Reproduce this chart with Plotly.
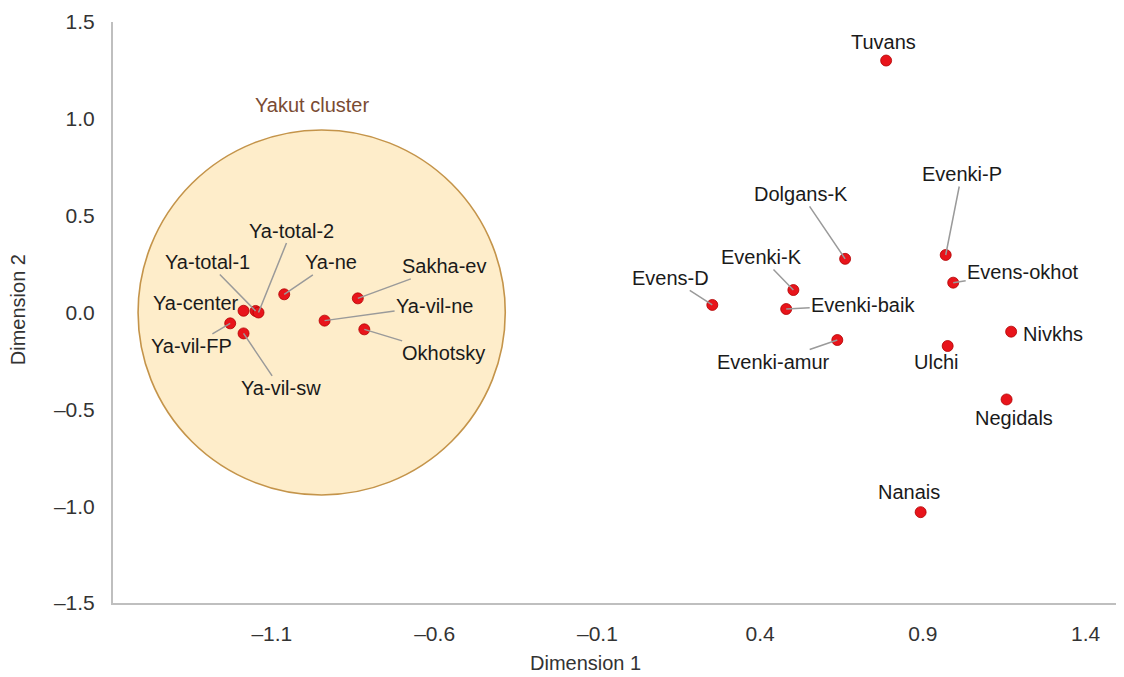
import plotly.graph_objects as go

# ---- data ----
names = ["Tuvans", "Dolgans-K", "Evenki-P", "Evens-okhot", "Evenki-K", "Evens-D",
         "Evenki-baik", "Evenki-amur", "Ulchi", "Nivkhs", "Negidals", "Nanais",
         "Ya-center", "Ya-total-1", "Ya-total-2", "Ya-ne", "Sakha-ev", "Ya-vil-ne",
         "Okhotsky", "Ya-vil-FP", "Ya-vil-sw"]
dim1 = [0.787, 0.661, 0.970, 0.993, 0.502, 0.253,
        0.480, 0.637, 0.976, 1.171, 1.157, 0.893,
        -1.187, -1.150, -1.141, -1.062, -0.836, -0.938,
        -0.816, -1.228, -1.187]
dim2 = [1.301, 0.277, 0.297, 0.154, 0.116, 0.039,
        0.018, -0.142, -0.173, -0.099, -0.449, -1.031,
        0.009, 0.008, 0.000, 0.094, 0.073, -0.042,
        -0.087, -0.056, -0.108]

x_ticks = [-1.1, -0.6, -0.1, 0.4, 0.9, 1.4]
x_ticktext = ["\u20131.1", "\u20130.6", "\u20130.1", "0.4", "0.9", "1.4"]
y_ticks = [1.5, 1.0, 0.5, 0.0, -0.5, -1.0, -1.5]
y_ticktext = ["1.5", "1.0", "0.5", "0.0", "\u20130.5", "\u20131.0", "\u20131.5"]

cluster_label = "Yakut cluster"
cluster_center = (-0.947, 0.0)
cluster_radius = (0.564, 0.942)

# label placement (pixel offsets) : (dx, dy, leader)
label_pos = {
    "Tuvans": (-3, -19, False),
    "Dolgans-K": (-44, -65, True),
    "Evenki-P": (16, -81, True),
    "Evens-okhot": (70, -11, True),
    "Evenki-K": (-32, -33, True),
    "Evens-D": (-42, -27, True),
    "Evenki-baik": (77, -4, True),
    "Evenki-amur": (-64, 22, True),
    "Ulchi": (-12, 16, False),
    "Nivkhs": (42, 2, False),
    "Negidals": (7, 19, False),
    "Nanais": (-12, -20, False),
    "Ya-center": (-48, -8, False),
    "Ya-total-1": (-48, -49, True),
    "Ya-total-2": (33, -82, True),
    "Ya-ne": (47, -32, True),
    "Sakha-ev": (87, -32, True),
    "Ya-vil-ne": (110, -15, True),
    "Okhotsky": (79, 24, True),
    "Ya-vil-FP": (-39, 23, True),
    "Ya-vil-sw": (37, 55, True),
}

FONT = "Liberation Sans, Arial, sans-serif"

fig = go.Figure()

fig.add_trace(go.Scatter(
    x=dim1, y=dim2, mode="markers",
    marker=dict(size=11, color="#E8141B", line=dict(width=0.8, color="#B00000")),
    hoverinfo="text", text=names, showlegend=False,
))

cx, cy = cluster_center
rx, ry = cluster_radius
fig.add_shape(type="circle", xref="x", yref="y",
              x0=cx - rx, x1=cx + rx, y0=cy - ry, y1=cy + ry,
              fillcolor="#FEEDCA", line=dict(color="#C4944A", width=1.6),
              layer="below")

fig.add_annotation(x=cx, y=cy + ry, xref="x", yref="y", text=cluster_label,
                   showarrow=False, xshift=-10, yshift=25,
                   font=dict(family=FONT, size=20, color="#7A4B33"))

for n, xv, yv in zip(names, dim1, dim2):
    dx, dy, leader = label_pos[n]
    if leader:
        fig.add_annotation(x=xv, y=yv, xref="x", yref="y", text=n,
                           showarrow=True, ax=dx, ay=dy, arrowhead=0,
                           arrowwidth=1.5, arrowcolor="#9A9A9A",
                           standoff=0, startstandoff=0,
                           font=dict(family=FONT, size=20, color="#1A1A1A"))
    else:
        fig.add_annotation(x=xv, y=yv, xref="x", yref="y", text=n,
                           showarrow=False, xshift=dx, yshift=-dy,
                           font=dict(family=FONT, size=20, color="#1A1A1A"))

# axis titles
fig.add_annotation(xref="paper", yref="paper", x=0.466, y=0, yshift=-60,
                   text="Dimension 1", showarrow=False, yanchor="middle",
                   font=dict(family=FONT, size=20, color="#333333"))
fig.add_annotation(xref="paper", yref="paper", x=0, y=0.504, xshift=-95,
                   text="Dimension 2", showarrow=False, textangle=-90,
                   xanchor="center", yanchor="middle",
                   font=dict(family=FONT, size=20, color="#333333"))

fig.update_layout(
    width=1124, height=677,
    margin=dict(l=105, r=4, t=14, b=82, autoexpand=False),
    paper_bgcolor="white", plot_bgcolor="white",
    showlegend=False,
    xaxis=dict(range=[-1.588, 1.530], tickvals=x_ticks, ticktext=x_ticktext,
               showgrid=False, zeroline=False, showline=True, automargin=False,
               linecolor="#BFBFBF", linewidth=2, ticks="",
               ticklabelstandoff=11,
               tickfont=dict(family=FONT, size=21, color="#333333")),
    yaxis=dict(range=[-1.5, 1.5], tickvals=y_ticks, ticktext=y_ticktext,
               showgrid=False, zeroline=False, showline=True, automargin=False,
               linecolor="#BFBFBF", linewidth=2, ticks="",
               ticklabelstandoff=12,
               tickfont=dict(family=FONT, size=21, color="#333333")),
)

fig.write_html("out.html")
